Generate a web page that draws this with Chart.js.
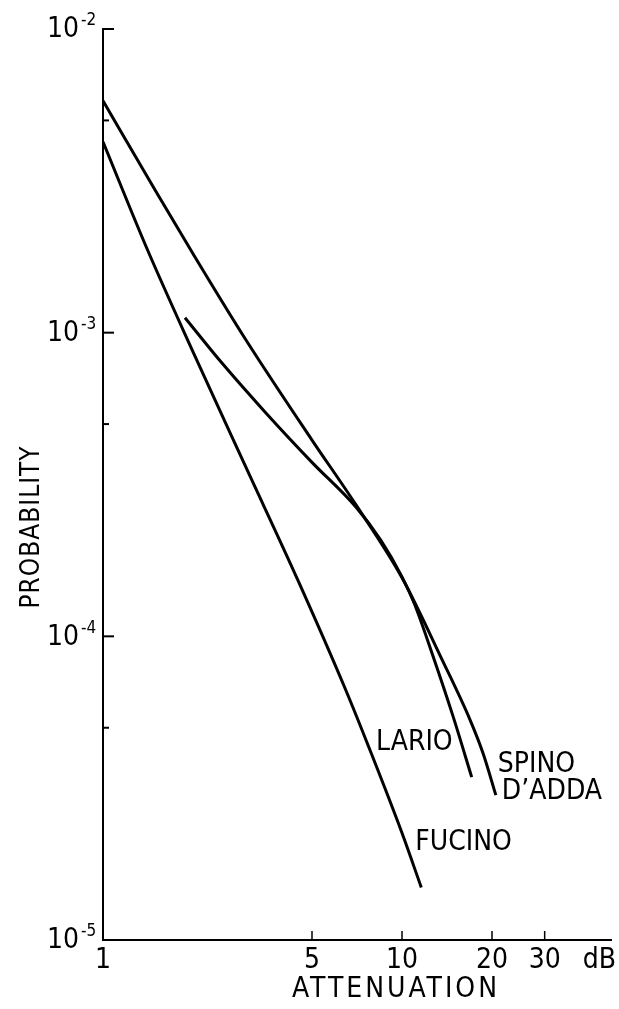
<!DOCTYPE html>
<html>
<head>
<meta charset="utf-8">
<script src="https://cdn.jsdelivr.net/npm/chart.js@4.4.1/dist/chart.umd.min.js"></script>
<style>
  html, body { margin: 0; padding: 0; background: #fff; }
</style>
</head>
<body>
<canvas id="grafico" width="619" height="1009"></canvas>
<script>
// Values: attenuation (dB) vs probability
const spinoDb = [1, 1.5, 2, 3, 5, 7, 10, 13.6, 16.9, 18.7, 20.6];
const spinoProb = [5.8e-3, 2.93e-3, 1.82e-3, 9.5e-4, 4.43e-4, 2.72e-4, 1.56e-4, 8.4e-5, 5.3e-5, 4.1e-5, 3.0e-5];

const larioDb = [1.88, 2.5, 3.5, 5, 7, 8.5, 10, 11, 12.6, 14.8, 17.1];
const larioProb = [1.12e-3, 7.94e-4, 5.45e-4, 3.74e-4, 2.67e-4, 2.07e-4, 1.57e-4, 1.28e-4, 8.8e-5, 5.47e-5, 3.44e-5];

const fucinoDb = [1, 1.4, 2, 3, 4.5, 6.5, 7.8, 10, 11.6];
const fucinoProb = [4.25e-3, 1.9e-3, 8.65e-4, 3.62e-4, 1.52e-4, 6.62e-5, 4.24e-5, 2.25e-5, 1.49e-5];

const seriesNames = ['SPINO\nD\u2019ADDA', 'LARIO', 'FUCINO'];

// Axis ticks
const xTicks = [1, 5, 10, 20, 30];
const xTickLabels = ['1', '5', '10', '20', '30'];
const yTicks = [1e-2, 1e-3, 1e-4, 1e-5];
const yTickExp = ['-2', '-3', '-4', '-5'];
const yMinorTicks = [5e-3, 5e-4, 5e-5];

const FONT = '"Liberation Sans Narrow", "DejaVu Sans Condensed", "Liberation Sans", sans-serif';

function pares(xs, ys) {
  return xs.map((x, i) => ({ x: x, y: ys[i] }));
}

function curva(xs, ys) {
  return {
    data: pares(xs, ys),
    borderColor: '#000',
    borderWidth: 3,
    pointRadius: 0,
    fill: false,
    cubicInterpolationMode: 'monotone'
  };
}

// Ticks, tick labels, titles and curve names
const textos = {
  id: 'textos',
  afterDraw(chart) {
    const ctx = chart.ctx;
    const x = chart.scales.x;
    const y = chart.scales.y;
    const area = chart.chartArea;
    ctx.save();
    ctx.fillStyle = '#000';
    ctx.strokeStyle = '#000';
    ctx.lineWidth = 2;

    // inward ticks on the y axis
    yTicks.forEach(v => {
      const py = y.getPixelForValue(v);
      ctx.beginPath();
      ctx.moveTo(area.left, py);
      ctx.lineTo(area.left + 11, py);
      ctx.stroke();
    });
    yMinorTicks.forEach(v => {
      const py = y.getPixelForValue(v);
      ctx.beginPath();
      ctx.moveTo(area.left, py);
      ctx.lineTo(area.left + 6, py);
      ctx.stroke();
    });
    // inward ticks on the x axis
    ctx.lineWidth = 1.5;
    xTicks.slice(1).forEach(v => {
      const px = x.getPixelForValue(v);
      ctx.beginPath();
      ctx.moveTo(px, area.bottom);
      ctx.lineTo(px, area.bottom - 9);
      ctx.stroke();
    });

    // y tick labels 10^n
    yTicks.forEach((v, i) => {
      const py = y.getPixelForValue(v);
      ctx.font = '28px ' + FONT;
      ctx.textAlign = 'right';
      ctx.textBaseline = 'middle';
      ctx.fillText('10', area.left - 24, py + 1);
      ctx.font = '17px ' + FONT;
      ctx.textAlign = 'left';
      ctx.fillText(yTickExp[i], area.left - 22, py - 8);
    });

    // x tick labels
    ctx.font = '28px ' + FONT;
    ctx.textAlign = 'center';
    ctx.textBaseline = 'top';
    xTicks.forEach((v, i) => {
      ctx.fillText(xTickLabels[i], x.getPixelForValue(v), area.bottom + 7);
    });
    ctx.textAlign = 'right';
    ctx.fillText('dB', chart.width - 3, area.bottom + 7);

    // axis titles
    ctx.letterSpacing = '3px';
    ctx.textAlign = 'center';
    ctx.textBaseline = 'middle';
    ctx.fillText('ATTENUATION', 396, 990);
    ctx.save();
    ctx.font = '26px ' + FONT;
    ctx.letterSpacing = '1px';
    ctx.translate(32, 527);
    ctx.rotate(-Math.PI / 2);
    ctx.fillText('PROBABILITY', 0, 0);
    ctx.restore();
    ctx.letterSpacing = '0px';

    // curve names next to the curve ends
    const fim = i => {
      const d = chart.data.datasets[i].data;
      const p = d[d.length - 1];
      return { x: x.getPixelForValue(p.x), y: y.getPixelForValue(p.y) };
    };
    ctx.textBaseline = 'middle';
    const s = fim(0);
    const nomes = seriesNames[0].split('\n');
    ctx.textAlign = 'left';
    ctx.fillText(nomes[0], s.x + 2, s.y - 30);
    ctx.fillText(nomes[1], s.x + 6, s.y - 3);
    const l = fim(1);
    ctx.textAlign = 'right';
    ctx.fillText(seriesNames[1], l.x - 19, l.y - 34);
    const f = fim(2);
    ctx.textAlign = 'left';
    ctx.fillText(seriesNames[2], f.x - 6, f.y - 45);

    ctx.restore();
  }
};

new Chart(document.getElementById('grafico'), {
  type: 'line',
  data: {
    datasets: [
      curva(spinoDb, spinoProb),
      curva(larioDb, larioProb),
      curva(fucinoDb, fucinoProb)
    ]
  },
  options: {
    responsive: false,
    animation: false,
    layout: { padding: { left: 103, right: 8, top: 29, bottom: 69 } },
    plugins: { legend: { display: false }, tooltip: { enabled: false } },
    scales: {
      x: {
        type: 'logarithmic',
        min: 1,
        max: 50,
        ticks: { display: false },
        grid: { display: false, drawTicks: false },
        border: { display: true, color: '#000', width: 2 }
      },
      y: {
        type: 'logarithmic',
        min: 1e-5,
        max: 1e-2,
        ticks: { display: false },
        grid: { display: false, drawTicks: false },
        border: { display: true, color: '#000', width: 2 }
      }
    }
  },
  plugins: [textos]
});
</script>
</body>
</html>
